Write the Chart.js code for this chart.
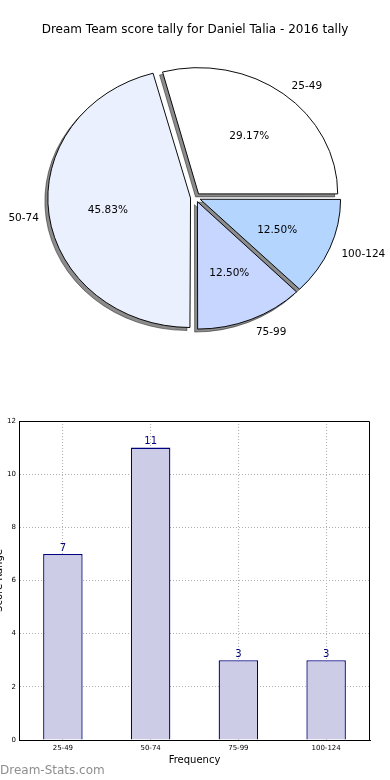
<!DOCTYPE html>
<html>
<head>
<meta charset="utf-8">
<script src="https://cdn.jsdelivr.net/npm/chart.js@4.4.1/dist/chart.umd.min.js"></script>
<style>
body { margin:0; background:#fff; width:390px; height:780px; overflow:hidden; position:relative; font-family:"DejaVu Sans", sans-serif; }
#pie { position:absolute; left:0; top:0; }
#bar { position:absolute; left:0; top:400px; }
#mark { position:absolute; left:0; top:762px; font-size:12px; color:#8e8e8e; line-height:16px; }
</style>
</head>
<body>
<canvas id="pie" width="390" height="400"></canvas>
<canvas id="bar" width="390" height="380"></canvas>
<div id="mark">Dream-Stats.com</div>
<script>
var chartTitle = 'Dream Team score tally for Daniel Talia - 2016 tally';
var categories = ['25-49', '50-74', '75-99', '100-124'];
var counts = [7, 11, 3, 3];
var pieColors = ['#ffffff', '#eaf0fd', '#c6d6fe', '#b4d6fe'];
var pieExplode = [5, 5, 5, 5];
var yMax = 12, yStep = 2;

var squash = 0.907;
var total = counts.reduce(function (a, b) { return a + b; }, 0);

// chart.js goes clockwise, matplotlib went counter clockwise -> reverse
var pieLabels = categories.slice().reverse();
var pieCounts = counts.slice().reverse();
var pieFill = pieColors.slice().reverse();
var pieOffset = pieExplode.slice().reverse();

function squashAround(ctx, chart) {
	var a = chart.chartArea;
	var cx = (a.left + a.right) / 2, cy = (a.top + a.bottom) / 2;
	ctx.translate(cx, cy);
	ctx.scale(1, squash);
	ctx.translate(-cx, -cy);
}

var pieLook = {
	id: 'pieLook',
	beforeDatasetsDraw: function (chart) {
		var ctx = chart.ctx;
		// shadow pass: shapes drawn far away, only their shadow lands on canvas
		ctx.save();
		ctx.translate(-10000, 0);
		squashAround(ctx, chart);
		ctx.shadowColor = 'rgba(0,0,0,0.45)';
		ctx.shadowOffsetX = 10000 - 3;
		ctx.shadowOffsetY = 3;
		ctx.shadowBlur = 0;
		chart.getDatasetMeta(0).data.forEach(function (arc) { arc.draw(ctx); });
		ctx.restore();
		ctx.save();
		squashAround(ctx, chart);
	},
	afterDatasetsDraw: function (chart) {
		chart.ctx.restore();
	},
	afterDraw: function (chart) {
		var ctx = chart.ctx;
		ctx.save();
		ctx.fillStyle = '#000';
		ctx.textAlign = 'center';
		ctx.textBaseline = 'middle';
		ctx.font = '12px "DejaVu Sans"';
		ctx.fillText(chartTitle, 195, 30);
		ctx.font = '10.5px "DejaVu Sans"';
		chart.getDatasetMeta(0).data.forEach(function (arc, i) {
			var p = arc.getProps(['x', 'y', 'startAngle', 'endAngle', 'outerRadius'], true);
			var mid = (p.startAngle + p.endAngle) / 2;
			var off = pieOffset[i], R = p.outerRadius;
			var at = function (f) {
				return [p.x + Math.cos(mid) * (off + R * f), p.y + 2 + Math.sin(mid) * (off + R * f) * squash];
			};
			var q = at(0.6);
			ctx.textAlign = 'center';
			ctx.fillText((pieCounts[i] / total * 100).toFixed(2) + '%', q[0], q[1]);
			var l = at(1.1);
			ctx.textAlign = Math.cos(mid) >= 0 ? 'left' : 'right';
			ctx.fillText(pieLabels[i], l[0], l[1]);
		});
		ctx.restore();
	}
};

new Chart(document.getElementById('pie'), {
	type: 'pie',
	data: {
		labels: pieLabels,
		datasets: [{
			data: pieCounts,
			backgroundColor: pieFill,
			borderColor: '#000',
			borderWidth: 1,
			// chart.js moves an arc by offset / 4
			offset: pieOffset.map(function (v) { return v * 4; }),
			hoverOffset: 0
		}]
	},
	options: {
		responsive: false,
		animation: false,
		events: [],
		rotation: 90,
		radius: 139,
		layout: { padding: { left: 1, right: 0, top: 0, bottom: 5 } },
		plugins: { legend: { display: false }, tooltip: { enabled: false } }
	},
	plugins: [pieLook]
});

var barExtras = {
	id: 'barExtras',
	afterDraw: function (chart) {
		var ctx = chart.ctx, a = chart.chartArea;
		ctx.save();
		// box on top and right like matplotlib
		ctx.strokeStyle = '#000';
		ctx.lineWidth = 1;
		ctx.beginPath();
		ctx.moveTo(a.left, a.top + 0.5);
		ctx.lineTo(a.right - 0.5, a.top + 0.5);
		ctx.lineTo(a.right - 0.5, a.bottom);
		ctx.stroke();
		// values above bars
		ctx.fillStyle = '#000080';
		ctx.font = '10px "DejaVu Sans"';
		ctx.textAlign = 'center';
		ctx.textBaseline = 'bottom';
		chart.getDatasetMeta(0).data.forEach(function (bar, i) {
			ctx.fillText(String(counts[i]), bar.x, bar.y - 1);
		});
		// axis titles
		ctx.fillStyle = '#000';
		ctx.textBaseline = 'middle';
		ctx.fillText('Frequency', (a.left + a.right) / 2, 360);
		ctx.translate(1.5, (a.top + a.bottom) / 2);
		ctx.rotate(-Math.PI / 2);
		ctx.textBaseline = 'alphabetic';
		ctx.fillText('Score Range', 0, 0);
		ctx.restore();
	}
};

new Chart(document.getElementById('bar'), {
	type: 'bar',
	data: {
		labels: categories,
		datasets: [{
			data: counts,
			backgroundColor: '#ccccE6',
			borderColor: '#000080',
			borderWidth: 1.3,
			barPercentage: 0.45,
			categoryPercentage: 1
		}]
	},
	options: {
		responsive: false,
		animation: false,
		events: [],
		layout: { padding: { left: 0, right: 20, top: 21, bottom: 0 } },
		plugins: { legend: { display: false }, tooltip: { enabled: false } },
		scales: {
			x: {
				z: 1,
				grid: { offset: false, color: '#b0b0b0', drawTicks: false },
				border: { color: '#000', width: 1, dash: [1, 2] },
				ticks: { color: '#000', font: { size: 7, family: 'DejaVu Sans' }, padding: 4 },
				afterFit: function (s) { s.height = 40; }
			},
			y: {
				z: 1,
				min: 0,
				max: yMax,
				grid: { color: '#b0b0b0', drawTicks: false },
				border: { color: '#000', width: 1, dash: [1, 2] },
				ticks: { stepSize: yStep, color: '#000', font: { size: 7, family: 'DejaVu Sans' }, padding: 3 },
				afterFit: function (s) { s.width = 19; }
			}
		}
	},
	plugins: [barExtras]
});
</script>
</body>
</html>
